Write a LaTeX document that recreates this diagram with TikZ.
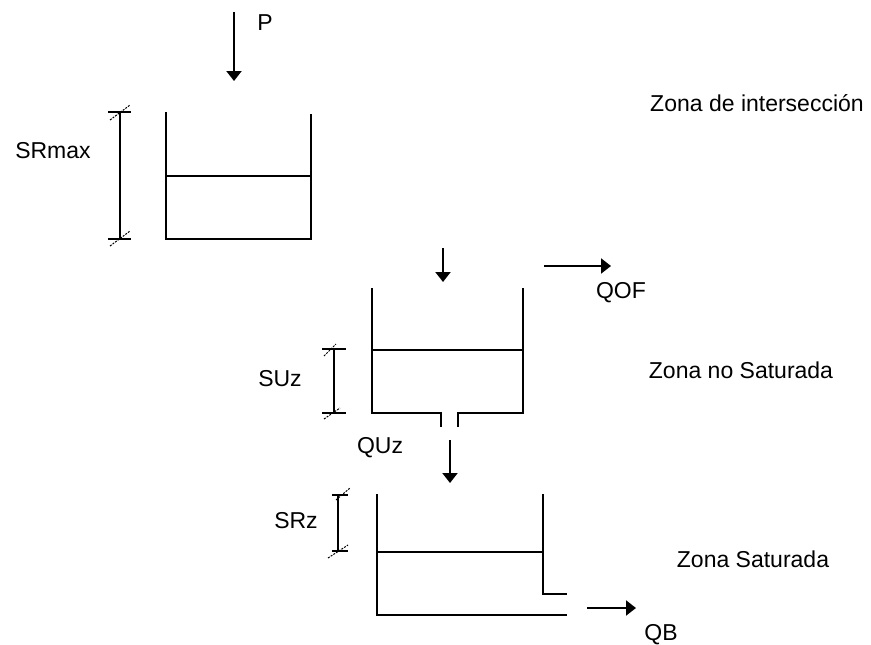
\documentclass[tikz,border=0pt]{standalone}
\usepackage{fontspec}
\setmainfont{Liberation Sans}
\usetikzlibrary{arrows.meta}
\begin{document}
\begin{tikzpicture}[x=1pt,y=-1pt,
  wall/.style={line width=2pt},
  flow/.style={line width=2pt,-{Triangle[length=10pt,width=15pt]}},
  dimline/.style={line width=1.6pt},
  slash/.style={line width=1pt,dash pattern=on 2pt off 1.2pt},
  lbl/.style={inner sep=0pt,font=\fontsize{23}{27}\selectfont}]
\useasboundingbox (0,0) rectangle (871,645);
\fill[white] (0,0) rectangle (871,645);

% ---- Tank 1 (Zona de intersección)
\draw[wall] (166,112) -- (166,239) -- (311,239) -- (311,114);
\draw[wall] (166,176) -- (311,176);
% SRmax dimension
\draw[dimline] (120,112) -- (120,239);
\draw[dimline] (108,112) -- (131,112);
\draw[dimline] (108,239) -- (131,239);
\draw[slash] (110,120) -- (130,105);
\draw[slash] (110,246) -- (130,231);

% ---- Tank 2 (Zona no Saturada)
\draw[wall] (372,288) -- (372,413) -- (441,413) -- (441,427);
\draw[wall] (458,427) -- (458,413) -- (523,413) -- (523,288);
\draw[wall] (372,350) -- (523,350);
% SUz dimension
\draw[dimline] (334,349) -- (334,413);
\draw[dimline] (322,349) -- (346,349);
\draw[dimline] (322,413) -- (346,413);
\draw[slash] (324,356) -- (336,344);
\draw[slash] (324,419) -- (340,408);

% ---- Tank 3 (Zona Saturada)
\draw[wall] (377,494) -- (377,615) -- (567,615);
\draw[wall] (543,494) -- (543,594) -- (567,594);
\draw[wall] (377,552) -- (543,552);
% SRz dimension
\draw[dimline] (338,495) -- (338,551);
\draw[dimline] (332,495) -- (348,495);
\draw[dimline] (332,551) -- (348,551);
\draw[slash] (336,500) -- (350,488);
\draw[slash] (328,558) -- (348,545);

% ---- flow arrows
\coordinate (p0) at (234,12);   \coordinate (p1) at (234,81);
\coordinate (i0) at (443,248);  \coordinate (i1) at (443,282);
\coordinate (o0) at (544,266);  \coordinate (o1) at (611,266);
\coordinate (u0) at (450,440);  \coordinate (u1) at (450,483);
\coordinate (b0) at (587,608);  \coordinate (b1) at (636,608);
\draw[flow] (p0) -- (p1);
\draw[flow] (i0) -- (i1);
\draw[flow] (o0) -- (o1);
\draw[flow] (u0) -- (u1);
\draw[flow] (b0) -- (b1);

% ---- labels
\node[lbl] (P) at (265,23) {P};
\node[lbl] (SRmax) at (53,151) {SRmax};
\node[lbl] (zi) at (757,103) {Zona de intersección};
\node[lbl] (QOF) at (621,293) {QOF};
\node[lbl] (SUz) at (280,379) {SUz};
\node[lbl] (zns) at (741,370) {Zona no Saturada};
\node[lbl] (QUz) at (380,448) {QUz};
\node[lbl] (SRz) at (296,521) {SRz};
\node[lbl] (zs) at (753,559) {Zona Saturada};
\node[lbl] (QB) at (661,635) {QB};
\end{tikzpicture}
\end{document}
